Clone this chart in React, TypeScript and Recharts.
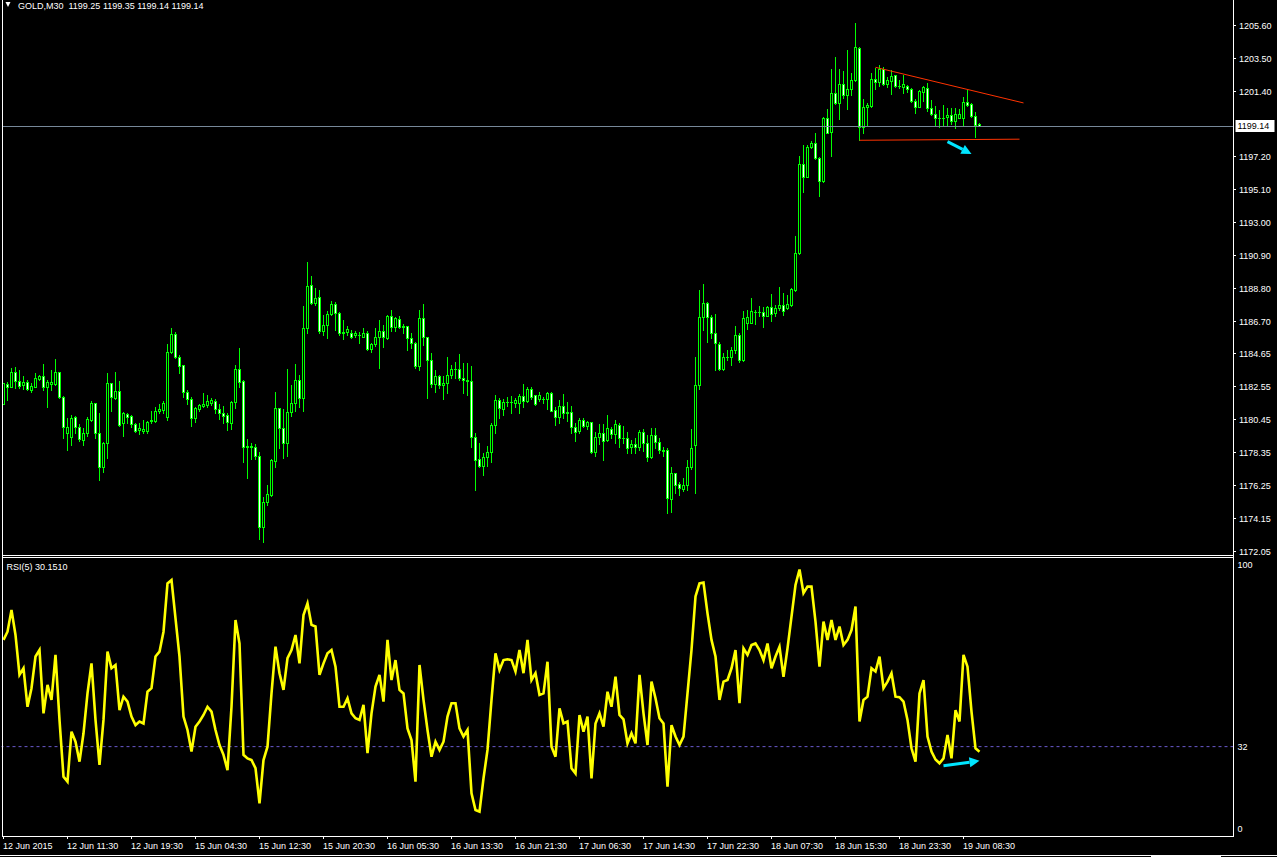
import React from 'react';
import { ComposedChart, Bar, Line, XAxis, YAxis, ReferenceLine } from 'recharts';

// MT4 style GOLD M30 chart: candles on top, RSI(5) underneath.
// Colours are the terminal's "green on black" scheme.

const C = {
  bg: '#000000', bar: '#00ff00', bull: '#000000', bear: '#ffffff', text: '#ffffff',
  frame: '#ffffff', bid: '#778899', rsi: '#ffff00', level: '#6a5acd', trend: '#ff3300', arrow: '#00e5ff',
};
const FONT = "'Liberation Sans', Arial, sans-serif";
const W = 1277;
const SLOTS = 308; // 245 bars + the empty chart shift on the right
const PLOT_L = 1.5;
const AXIS_W = W - PLOT_L - SLOTS * 4;

const opens = [
  1181.43, 1182.70, 1182.53, 1183.49, 1182.91, 1182.64, 1182.85, 1182.32, 1182.53, 1183.02,
  1183.23, 1182.49, 1182.68, 1182.68, 1183.44, 1181.89, 1179.56, 1179.34, 1180.58, 1179.98,
  1179.13, 1179.60, 1180.40, 1181.47, 1179.60, 1177.39, 1178.92, 1182.74, 1181.83, 1182.25,
  1180.19, 1180.77, 1180.66, 1180.13, 1179.77, 1179.73, 1179.68, 1180.32, 1180.34, 1180.96,
  1181.04, 1180.58, 1184.76, 1185.89, 1184.44, 1183.89, 1182.21, 1181.72, 1180.55, 1181.08,
  1181.30, 1181.36, 1181.51, 1181.62, 1181.08, 1180.83, 1180.72, 1180.23, 1181.57, 1183.63,
  1182.89, 1178.66, 1178.75, 1178.67, 1178.13, 1173.61, 1175.16, 1175.63, 1177.82, 1181.15,
  1179.92, 1178.92, 1180.94, 1181.47, 1182.96, 1181.83, 1186.25, 1189.01, 1187.88, 1188.22,
  1186.10, 1186.46, 1187.16, 1187.80, 1187.20, 1185.97, 1185.99, 1185.97, 1185.82, 1185.82,
  1185.72, 1185.93, 1184.91, 1185.23, 1185.68, 1186.08, 1185.61, 1187.03, 1186.35, 1186.82,
  1186.31, 1186.40, 1185.61, 1185.29, 1183.87, 1186.89, 1185.68, 1184.23, 1182.68, 1183.21,
  1182.64, 1182.74, 1183.29, 1183.66, 1183.66, 1183.11, 1182.95, 1182.91, 1179.35, 1177.90,
  1177.47, 1178.03, 1178.39, 1180.09, 1181.68, 1181.08, 1181.57, 1181.57, 1181.47, 1181.51,
  1181.93, 1181.64, 1182.36, 1182.00, 1181.72, 1181.72, 1181.72, 1182.10, 1181.04, 1180.62,
  1181.30, 1180.87, 1180.93, 1179.98, 1179.72, 1180.40, 1180.02, 1180.26, 1178.34, 1179.30,
  1179.55, 1179.13, 1179.81, 1179.49, 1180.09, 1179.24, 1179.24, 1178.66, 1178.87, 1178.66,
  1179.66, 1178.92, 1178.07, 1179.45, 1179.02, 1178.49, 1178.49, 1175.35, 1177.01, 1176.33,
  1175.99, 1176.26, 1177.43, 1178.81, 1182.63, 1186.95, 1187.89, 1186.95, 1185.93, 1185.26,
  1183.64, 1184.45, 1184.45, 1184.87, 1185.83, 1184.24, 1186.61, 1186.61, 1187.31, 1187.31,
  1187.31, 1187.04, 1187.59, 1187.25, 1187.53, 1187.74, 1187.53, 1187.74, 1188.70, 1191.03,
  1196.72, 1195.92, 1197.79, 1198.04, 1197.09, 1195.66, 1199.63, 1198.78, 1201.27, 1200.59,
  1201.82, 1201.12, 1201.48, 1202.08, 1204.09, 1199.10, 1200.34, 1200.42, 1202.12, 1201.97,
  1202.76, 1201.80, 1202.03, 1202.40, 1201.72, 1201.65, 1201.69, 1201.48, 1200.76, 1200.38,
  1201.33, 1201.55, 1200.27, 1199.89, 1199.68, 1199.68, 1199.70, 1199.83, 1199.46, 1199.68,
  1199.63, 1200.67, 1200.55, 1199.80, 1199.25,
];

const highs = [
  1182.78, 1182.85, 1183.74, 1183.76, 1183.59, 1183.21, 1182.95, 1182.74, 1183.42, 1183.27,
  1183.97, 1182.95, 1183.59, 1184.27, 1183.49, 1181.93, 1180.51, 1180.72, 1180.66, 1180.13,
  1179.87, 1180.62, 1181.62, 1181.51, 1180.83, 1179.02, 1183.38, 1182.78, 1183.44, 1182.89,
  1180.91, 1180.87, 1180.72, 1180.19, 1180.23, 1180.40, 1180.36, 1180.98, 1181.21, 1181.43,
  1181.62, 1185.25, 1186.25, 1186.03, 1184.55, 1183.91, 1182.32, 1181.89, 1181.25, 1181.43,
  1182.10, 1182.00, 1181.79, 1181.72, 1181.43, 1181.30, 1180.87, 1181.64, 1183.91, 1184.97,
  1182.95, 1179.17, 1178.92, 1178.86, 1178.39, 1175.52, 1176.27, 1177.90, 1182.17, 1181.19,
  1181.09, 1183.64, 1182.64, 1183.95, 1183.29, 1187.67, 1190.45, 1189.58, 1188.80, 1188.69,
  1187.10, 1187.35, 1187.99, 1187.95, 1187.31, 1186.78, 1186.40, 1186.14, 1186.08, 1186.04,
  1186.25, 1186.08, 1185.34, 1186.25, 1186.78, 1186.46, 1187.10, 1187.42, 1186.95, 1187.03,
  1186.52, 1186.40, 1185.97, 1185.40, 1187.42, 1187.80, 1185.72, 1184.66, 1183.59, 1183.29,
  1183.21, 1184.40, 1183.91, 1184.13, 1184.61, 1184.02, 1184.02, 1183.85, 1179.60, 1178.92,
  1178.28, 1178.75, 1180.19, 1182.00, 1181.78, 1181.72, 1181.89, 1181.93, 1181.78, 1182.06,
  1182.70, 1182.49, 1182.49, 1182.00, 1182.17, 1181.89, 1182.19, 1182.19, 1181.21, 1181.68,
  1182.06, 1181.57, 1181.30, 1180.19, 1180.55, 1180.51, 1180.34, 1180.30, 1179.66, 1180.15,
  1180.15, 1180.72, 1179.98, 1180.40, 1180.19, 1180.02, 1179.66, 1179.13, 1179.24, 1179.77,
  1179.81, 1179.45, 1179.87, 1179.87, 1179.24, 1178.70, 1178.60, 1177.39, 1177.01, 1176.47,
  1176.69, 1177.86, 1179.81, 1184.45, 1188.70, 1189.08, 1187.95, 1187.10, 1187.17, 1185.40,
  1184.66, 1184.87, 1185.08, 1186.40, 1185.93, 1187.38, 1187.42, 1188.16, 1187.42, 1187.68,
  1187.59, 1187.68, 1188.44, 1187.74, 1188.91, 1188.48, 1188.38, 1188.80, 1192.14, 1197.23,
  1197.93, 1197.93, 1198.21, 1198.68, 1197.15, 1199.70, 1200.21, 1202.76, 1203.56, 1202.76,
  1202.67, 1203.99, 1202.50, 1205.69, 1204.16, 1200.84, 1200.59, 1202.50, 1202.86, 1203.03,
  1202.88, 1202.29, 1202.71, 1202.40, 1202.08, 1202.40, 1201.76, 1201.55, 1200.87, 1201.44,
  1201.69, 1201.86, 1200.80, 1200.42, 1200.17, 1200.48, 1200.27, 1200.27, 1200.27, 1200.21,
  1200.97, 1201.44, 1200.59, 1200.06, 1199.35,
];

const lows = [
  1181.40, 1181.68, 1182.49, 1182.42, 1182.42, 1182.36, 1182.32, 1182.21, 1182.49, 1182.95,
  1182.32, 1181.25, 1182.32, 1182.64, 1181.79, 1179.28, 1178.49, 1178.81, 1179.60, 1179.09,
  1178.81, 1179.39, 1180.36, 1179.24, 1176.58, 1177.11, 1177.96, 1181.00, 1181.72, 1180.02,
  1179.39, 1180.23, 1179.98, 1179.66, 1179.51, 1179.60, 1179.56, 1180.23, 1180.28, 1180.87,
  1180.83, 1180.40, 1184.65, 1184.33, 1183.42, 1181.89, 1181.43, 1180.02, 1180.30, 1181.00,
  1181.21, 1181.21, 1181.36, 1180.83, 1180.45, 1180.19, 1179.77, 1179.81, 1181.15, 1182.49,
  1177.75, 1176.69, 1177.90, 1177.90, 1172.80, 1172.66, 1174.99, 1175.57, 1177.43, 1178.65,
  1177.97, 1178.13, 1180.68, 1181.00, 1181.26, 1181.00, 1185.97, 1187.78, 1187.74, 1185.93,
  1185.82, 1185.61, 1187.10, 1186.14, 1185.82, 1185.55, 1185.82, 1185.61, 1185.72, 1185.34,
  1185.68, 1184.87, 1184.76, 1185.12, 1183.70, 1185.08, 1185.55, 1186.10, 1186.10, 1186.25,
  1185.93, 1184.87, 1184.97, 1183.70, 1183.59, 1185.19, 1181.79, 1182.53, 1182.21, 1182.43,
  1181.72, 1182.11, 1183.06, 1183.06, 1182.96, 1182.11, 1182.00, 1178.71, 1175.95, 1177.39,
  1176.90, 1177.47, 1177.75, 1179.60, 1180.51, 1180.72, 1181.30, 1180.87, 1181.25, 1180.87,
  1181.25, 1181.57, 1181.72, 1181.36, 1181.64, 1181.51, 1181.08, 1180.98, 1180.09, 1180.23,
  1180.51, 1180.36, 1179.55, 1179.09, 1179.60, 1179.94, 1179.81, 1178.32, 1178.11, 1178.87,
  1177.86, 1179.07, 1179.24, 1178.96, 1178.66, 1178.96, 1178.32, 1178.32, 1178.32, 1178.49,
  1178.45, 1177.81, 1177.96, 1178.60, 1178.28, 1178.11, 1174.50, 1174.56, 1175.73, 1175.62,
  1175.90, 1175.94, 1177.26, 1175.73, 1182.40, 1186.15, 1185.40, 1185.62, 1183.60, 1183.60,
  1183.56, 1184.24, 1183.92, 1184.66, 1184.13, 1184.19, 1186.19, 1186.57, 1186.53, 1187.00,
  1186.36, 1187.04, 1186.74, 1187.00, 1187.42, 1187.10, 1187.46, 1187.68, 1188.65, 1190.99,
  1194.96, 1195.87, 1197.72, 1197.02, 1194.69, 1195.60, 1198.72, 1197.23, 1200.55, 1199.57,
  1200.91, 1200.21, 1201.12, 1202.03, 1198.25, 1198.68, 1199.21, 1200.38, 1201.50, 1201.69,
  1201.76, 1201.65, 1201.18, 1201.65, 1201.55, 1201.27, 1201.33, 1200.70, 1200.00, 1200.35,
  1200.76, 1200.12, 1199.85, 1199.15, 1199.06, 1199.15, 1199.15, 1199.27, 1199.04, 1199.63,
  1199.21, 1200.42, 1199.70, 1198.47, 1199.14,
];

const closes = [
  1182.74, 1182.49, 1183.44, 1182.91, 1182.59, 1182.85, 1182.36, 1182.57, 1183.06, 1183.23,
  1182.49, 1182.85, 1182.85, 1183.44, 1181.89, 1179.98, 1179.94, 1180.51, 1179.98, 1179.19,
  1179.60, 1180.47, 1181.47, 1179.60, 1177.39, 1178.92, 1182.74, 1181.89, 1182.25, 1180.09,
  1180.87, 1180.58, 1180.13, 1179.73, 1179.87, 1179.85, 1180.30, 1180.40, 1180.98, 1181.08,
  1181.51, 1184.76, 1185.89, 1184.44, 1183.87, 1182.21, 1181.72, 1180.55, 1181.19, 1181.36,
  1181.43, 1181.62, 1181.68, 1181.08, 1180.83, 1180.66, 1180.30, 1181.57, 1183.63, 1182.85,
  1178.66, 1178.75, 1178.71, 1178.13, 1173.61, 1175.16, 1175.67, 1177.86, 1181.15, 1179.92,
  1178.92, 1180.94, 1181.47, 1182.96, 1181.83, 1186.25, 1188.95, 1187.88, 1188.16, 1186.10,
  1186.46, 1187.16, 1187.80, 1187.20, 1185.97, 1186.01, 1186.21, 1185.68, 1185.93, 1185.80,
  1185.93, 1184.91, 1185.23, 1185.68, 1186.08, 1185.68, 1187.03, 1186.31, 1186.89, 1186.31,
  1186.40, 1185.61, 1185.29, 1183.87, 1186.89, 1185.68, 1184.23, 1182.68, 1183.21, 1182.64,
  1182.74, 1183.29, 1183.66, 1183.64, 1183.11, 1182.95, 1182.91, 1179.35, 1177.86, 1177.47,
  1178.03, 1178.39, 1180.09, 1181.68, 1181.19, 1181.57, 1181.57, 1181.55, 1181.68, 1181.93,
  1181.64, 1182.36, 1181.85, 1181.40, 1182.00, 1181.72, 1182.10, 1181.00, 1180.62, 1181.30,
  1180.87, 1180.93, 1179.98, 1179.66, 1180.40, 1180.02, 1180.26, 1178.39, 1179.30, 1179.55,
  1179.09, 1179.87, 1179.49, 1180.15, 1179.24, 1179.28, 1178.64, 1178.87, 1178.66, 1179.66,
  1178.92, 1178.07, 1179.45, 1179.02, 1178.49, 1178.45, 1175.46, 1177.01, 1176.26, 1176.05,
  1176.26, 1177.43, 1178.60, 1182.63, 1186.95, 1187.85, 1186.95, 1185.93, 1185.34, 1183.64,
  1184.45, 1184.45, 1184.87, 1185.83, 1184.24, 1186.89, 1186.95, 1187.36, 1187.31, 1187.31,
  1187.04, 1187.59, 1187.17, 1187.53, 1187.74, 1187.38, 1187.80, 1188.74, 1191.03, 1196.72,
  1195.92, 1197.79, 1198.04, 1197.09, 1195.66, 1199.63, 1198.72, 1201.27, 1200.59, 1201.82,
  1201.12, 1201.48, 1202.08, 1204.16, 1199.10, 1200.34, 1200.48, 1202.12, 1201.97, 1202.76,
  1201.80, 1202.08, 1202.33, 1201.69, 1201.72, 1201.80, 1201.48, 1200.76, 1200.38, 1201.38,
  1201.61, 1200.27, 1199.89, 1199.68, 1199.68, 1199.63, 1199.85, 1199.44, 1199.89, 1199.89,
  1200.67, 1200.51, 1199.80, 1199.21, 1199.14,
];

const rsi = [
  71.1, 74.1, 82.1, 72.9, 58.3, 60.7, 46.6, 53.4, 65.0, 67.4,
  44.2, 54.6, 49.1, 65.6, 41.8, 21.0, 19.2, 37.5, 33.8, 26.5,
  36.9, 51.5, 62.5, 41.8, 25.3, 41.8, 66.8, 60.7, 61.9, 45.4,
  50.3, 48.5, 43.0, 39.9, 41.2, 40.5, 52.1, 53.4, 65.0, 66.8,
  74.1, 91.8, 93.0, 79.0, 65.0, 43.0, 38.1, 30.2, 39.3, 41.2,
  43.6, 46.6, 44.8, 38.1, 32.6, 29.0, 23.4, 46.6, 78.4, 69.8,
  29.0, 27.7, 27.1, 24.1, 11.2, 27.1, 32.0, 51.5, 68.6, 58.9,
  52.8, 64.4, 67.4, 72.9, 62.5, 80.2, 84.5, 76.6, 76.0, 58.3,
  62.5, 66.2, 67.4, 61.3, 46.6, 46.6, 49.7, 44.2, 42.4, 41.8,
  47.3, 29.6, 44.2, 54.0, 58.3, 48.5, 71.1, 56.4, 63.7, 52.8,
  51.5, 38.7, 34.4, 19.2, 61.9, 49.1, 38.1, 28.3, 33.8, 30.8,
  33.8, 43.0, 47.9, 47.9, 38.7, 35.7, 38.1, 14.9, 8.8, 8.2,
  20.4, 30.8, 49.1, 66.2, 60.1, 63.7, 64.0, 63.7, 59.5, 67.4,
  58.9, 71.1, 56.4, 58.9, 50.9, 51.5, 63.1, 32.0, 28.3, 46.0,
  40.5, 41.2, 24.1, 22.2, 43.6, 37.5, 43.0, 20.4, 40.5, 44.2,
  39.3, 52.1, 46.6, 57.6, 43.6, 42.0, 33.2, 36.9, 33.2, 58.3,
  44.2, 32.6, 55.8, 49.7, 42.4, 40.5, 17.3, 39.9, 35.7, 32.6,
  35.7, 51.5, 67.4, 87.0, 91.8, 92.1, 80.8, 71.1, 65.0, 49.1,
  55.8, 56.4, 60.7, 67.4, 47.9, 68.0, 65.6, 69.2, 69.8, 67.4,
  63.7, 69.8, 60.7, 65.0, 68.6, 57.6, 68.0, 79.6, 91.2, 96.9,
  88.2, 90.6, 90.6, 77.8, 61.3, 77.8, 71.1, 78.4, 71.1, 76.0,
  69.2, 71.1, 74.7, 83.3, 41.2, 49.1, 50.3, 60.7, 59.5, 65.0,
  53.4, 55.8, 58.9, 50.3, 50.1, 48.5, 41.8, 31.4, 26.5, 51.5,
  56.4, 35.7, 30.2, 27.3, 25.9, 27.7, 36.3, 27.7, 45.4, 41.2,
  65.6, 61.3, 44.8, 31.4, 30.15,
];

// one time label every 16 bars (8 hours of M30)
const LABEL_STEP = 16;
const timeLabels = [
  '12 Jun 2015', '12 Jun 11:30', '12 Jun 19:30', '15 Jun 04:30', '15 Jun 12:30', '15 Jun 20:30',
  '16 Jun 05:30', '16 Jun 13:30', '16 Jun 21:30', '17 Jun 06:30', '17 Jun 14:30', '17 Jun 22:30',
  '18 Jun 07:30', '18 Jun 15:30', '18 Jun 23:30', '19 Jun 08:30',
];
const priceTicks = [
  1205.60, 1203.50, 1201.40, 1197.20, 1195.10, 1193.00, 1190.90, 1188.80,
  1186.70, 1184.65, 1182.55, 1180.45, 1178.35, 1176.25, 1174.15, 1172.05,
];
const priceDomain = [1171.80, 1207.17];
const rsiTicks = [0, 32, 100];
const rsiLevel = 32;
const bid = 1199.14;
const header = 'GOLD,M30  1199.25 1199.35 1199.14 1199.14';
const rsiHeader = 'RSI(5) 30.1510';

// hand-drawn objects on the chart (bar index, value)
const resistance = [{ x: 218, y: 1202.88 }, { x: 255, y: 1200.61 }];
const support = [{ x: 214, y: 1198.23 }, { x: 254, y: 1198.30 }];
const priceArrow = [{ x: 236, y: 1198.14 }, { x: 242, y: 1197.36 }];
const rsiArrow = [{ x: 235, y: 25.0 }, { x: 244, y: 26.8 }];

type Row = { i: number; o?: number; h?: number; l?: number; c?: number; rsi?: number };
const rows: Row[] = Array.from({ length: SLOTS }, (_, i) =>
  i < closes.length ? { i, o: opens[i], h: highs[i], l: lows[i], c: closes[i], rsi: rsi[i] } : { i });

function Candle(props: any) {
  const { x, y, width, height, payload } = props;
  if (!payload || payload.h == null) return null;
  const { o, h, l, c } = payload as Required<Row>;
  const top = height < 0 ? y + height : y;
  const span = Math.abs(height);
  const ppu = span / (h - l || 1);
  const py = (v: number) => top + (h - v) * ppu;
  const cx = Math.floor(x + width / 2);
  const yH = Math.round(py(Math.max(h, o, c)));
  const yL = Math.round(py(Math.min(l, o, c)));
  const yT = Math.round(py(Math.max(o, c)));
  const yB = Math.round(py(Math.min(o, c)));
  return (
    <g>
      <rect x={cx} y={yH} width={1} height={yL - yH + 1} fill={C.bar} />
      <rect x={cx - 1} y={yT} width={3} height={yB - yT + 1} fill={C.bar} />
      {yB - yT >= 2 && (
        <rect x={cx} y={yT + 1} width={1} height={yB - yT - 1} fill={c >= o ? C.bull : C.bear} />
      )}
    </g>
  );
}

const arrowShape = (p: any) => {
  const { x1, y1, x2, y2 } = p;
  const a = Math.atan2(y2 - y1, x2 - x1);
  const len = 10, half = 5;
  const bx = x2 - len * Math.cos(a), by = y2 - len * Math.sin(a);
  const nx = -Math.sin(a) * half, ny = Math.cos(a) * half;
  return (
    <g>
      <line x1={x1} y1={y1} x2={bx} y2={by} stroke={C.arrow} strokeWidth={3} />
      <polygon points={`${x2},${y2} ${bx + nx},${by + ny} ${bx - nx},${by - ny}`} fill={C.arrow} />
    </g>
  );
};

const PriceTick = (p: any) => {
  const { x, y, payload } = p;
  const yy = Math.round(y) + 0.5;
  return (
    <g>
      <line x1={x - 0.5} x2={x + 2.5} y1={yy} y2={yy} stroke={C.frame} />
      <text x={x + 5.5} y={yy} dy="0.35em" fill={C.text} fontSize={9} fontFamily={FONT}>
        {Number(payload.value).toFixed(2)}
      </text>
    </g>
  );
};

const BidLabel = (p: any) => {
  const vb = p.viewBox || {};
  const bx = vb.x + vb.width + 2;
  const by = Math.round(vb.y);
  return (
    <g>
      <rect x={bx} y={by - 6} width={39} height={12} fill="#ffffff" />
      <text x={bx + 2} y={by} dy="0.35em" fill="#000000" fontSize={9} fontFamily={FONT}>{bid.toFixed(2)}</text>
    </g>
  );
};

const RsiTick = (p: any) => {
  const { x, y, payload } = p;
  const v = payload.value;
  const dy = v === 100 ? 4 : v === 0 ? -5 : 0;
  return (
    <text x={x + 4} y={y + dy} dy="0.35em" fill={C.text} fontSize={9} fontFamily={FONT}>{v}</text>
  );
};

const TimeTick = (p: any) => {
  const { x, y, payload } = p;
  const i = payload.value;
  if (i % LABEL_STEP !== 0 || i / LABEL_STEP >= timeLabels.length) return null;
  const tx = Math.floor(x) + 0.5;
  return (
    <g>
      <line x1={tx} x2={tx} y1={y + 2} y2={y + 5} stroke={C.frame} />
      <text x={tx - 0.5} y={y + 15} fill={C.text} fontSize={9} fontFamily={FONT}>{timeLabels[i / LABEL_STEP]}</text>
    </g>
  );
};

export default function App() {
  const ln = { stroke: C.frame, strokeWidth: 1, shapeRendering: 'crispEdges' as const };
  return (
    <div style={{ position: 'fixed', left: 0, top: 0, width: W, height: 857, background: C.bg, overflow: 'hidden' }}>
      <div style={{ position: 'absolute', left: 0, top: 0 }}>
        {/* plot area is rows 0..555; the extra 10px keeps the lowest price label unclipped */}
        <ComposedChart width={W} height={565} data={rows} margin={{ top: 0, right: 0, bottom: 10, left: PLOT_L }}>
          <XAxis dataKey="i" type="category" scale="band" hide />
          <YAxis orientation="right" width={AXIS_W} domain={priceDomain} allowDataOverflow ticks={priceTicks}
            interval={0} tick={<PriceTick />} tickSize={0} tickMargin={0} axisLine={false} tickLine={false} />
          <ReferenceLine y={bid} stroke={C.bid} shapeRendering="crispEdges" label={<BidLabel />} />
          <ReferenceLine segment={resistance} stroke={C.trend} />
          <ReferenceLine segment={support} stroke={C.trend} />
          <Bar dataKey={(d: Row) => (d.h == null ? null : [d.l, d.h])} shape={<Candle />} isAnimationActive={false} />
          <ReferenceLine segment={priceArrow} shape={arrowShape} />
        </ComposedChart>
      </div>
      <div style={{ position: 'absolute', left: 0, top: 556 }}>
        <ComposedChart width={W} height={301} data={rows} margin={{ top: 5, right: 0, bottom: 0, left: PLOT_L }}>
          <XAxis dataKey="i" type="category" scale="band" interval={0} height={23} tick={<TimeTick />}
            tickSize={0} tickMargin={0} axisLine={false} tickLine={false} />
          <YAxis orientation="right" width={AXIS_W} domain={[0, 100]} ticks={rsiTicks} interval={0}
            tick={<RsiTick />} tickSize={0} tickMargin={0} axisLine={false} tickLine={false} />
          <ReferenceLine y={rsiLevel} stroke={C.level} strokeDasharray="3 3" />
          <Line dataKey="rsi" stroke={C.rsi} strokeWidth={2.6} dot={false} isAnimationActive={false} />
          <ReferenceLine segment={rsiArrow} shape={arrowShape} />
        </ComposedChart>
      </div>
      <svg width={W} height={857} style={{ position: 'absolute', left: 0, top: 0, pointerEvents: 'none' }}>
        <line x1={2.5} y1={0} x2={2.5} y2={836} {...ln} />
        <line x1={1233.5} y1={0} x2={1233.5} y2={836} {...ln} />
        <line x1={2} y1={555.5} x2={1234} y2={555.5} {...ln} />
        <line x1={2} y1={557.5} x2={1234} y2={557.5} {...ln} />
        <line x1={2} y1={836.5} x2={1234} y2={836.5} {...ln} />
        <line x1={0} y1={855.5} x2={W} y2={855.5} {...ln} />
        <rect x={1151} y={855} width={70} height={2} fill={C.frame} />
        <polygon points="5.5,2 10.5,2 8,7" fill={C.text} />
        <text x={18} y={8.5} fill={C.text} fontSize={9} fontFamily={FONT} style={{ whiteSpace: 'pre' }}>{header}</text>
        <text x={6.5} y={569.5} fill={C.text} fontSize={9} fontFamily={FONT}>{rsiHeader}</text>
      </svg>
    </div>
  );
}
